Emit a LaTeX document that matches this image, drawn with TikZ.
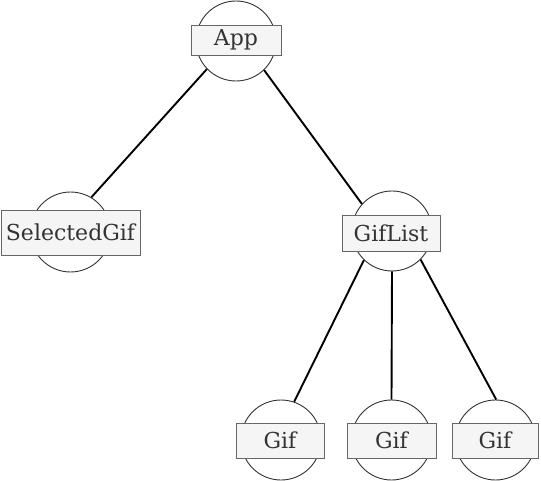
\documentclass[tikz,border=0pt]{standalone}
\usepackage{fontspec}
\setmainfont{DejaVu Serif}
\begin{document}
\begin{tikzpicture}[x=1pt,y=-1pt,
  circ/.style={circle,draw=black!80,line width=0.9pt,fill=white,inner sep=0pt,minimum size=80pt},
  lbl/.style={rectangle,draw=black!60,line width=0.9pt,fill=black!4,text=black!80,inner sep=0pt,font=\fontsize{22}{26}\selectfont},
  edge/.style={line width=1.9pt,black}]
\useasboundingbox (0,0) rectangle (541,481);
\node[circ] (app) at (236,41) {};
\node[circ] (sel) at (70.5,232) {};
\node[circ] (list) at (392,231) {};
\node[circ] (g1) at (281,440) {};
\node[circ] (g2) at (391.5,440) {};
\node[circ] (g3) at (495.5,440) {};
\draw[edge] (app.224) -- (sel.59);
\draw[edge] (app.314) -- (list.138);
\draw[edge] (list.226) -- (g1.71);
\draw[edge] (list.south) -- (g2.north);
\draw[edge] (list.315) -- (g3.89);
\node[lbl,minimum width=90pt,minimum height=30pt] (appl) at (236,40) {App};
\node[lbl,minimum width=139pt,minimum height=45pt] (sell) at (70.5,232.5) {SelectedGif};
\node[lbl,minimum width=98pt,minimum height=36pt] (listl) at (391,233) {GifList};
\node[lbl,minimum width=88pt,minimum height=35pt] (g1l) at (280,440.5) {Gif};
\node[lbl,minimum width=89pt,minimum height=35pt] (g2l) at (391.5,440.5) {Gif};
\node[lbl,minimum width=86pt,minimum height=35pt] (g3l) at (495,440.5) {Gif};
\end{tikzpicture}
\end{document}
